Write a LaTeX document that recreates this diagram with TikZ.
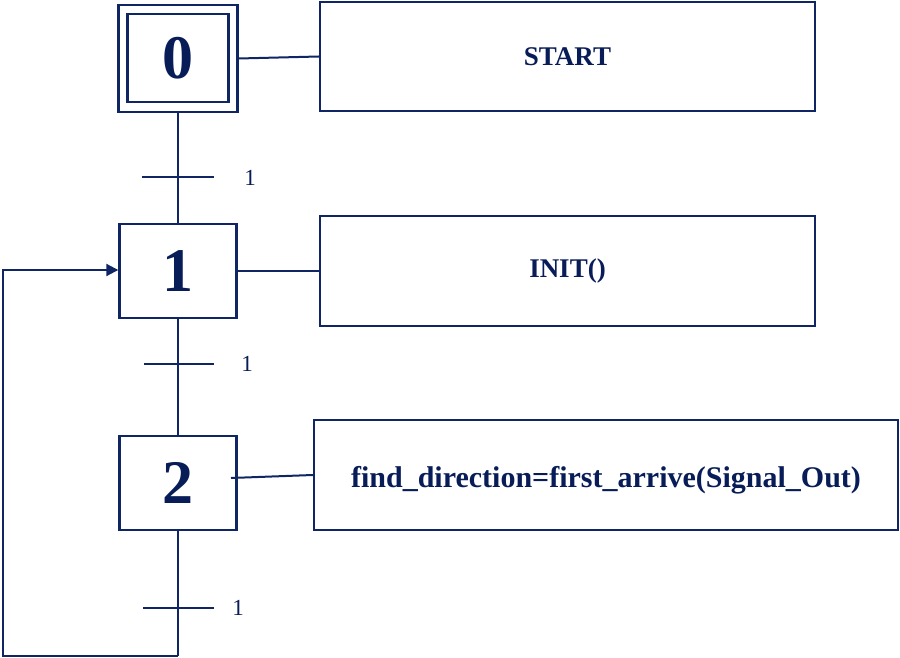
\documentclass[tikz,border=0pt]{standalone}
\usepackage{fontspec}
\setmainfont{Liberation Serif}
\usetikzlibrary{arrows.meta}
\definecolor{navy}{RGB}{16,38,100}
\definecolor{navytext}{RGB}{8,28,88}
\begin{document}
\begin{tikzpicture}[x=1pt,y=-1pt,
  line/.style={draw=navy,line width=2pt},
  stepbox/.style={draw=navy,line width=2.4pt,minimum width=117pt,minimum height=94pt,inner sep=0pt,font=\fontsize{62}{62}\selectfont\bfseries,text=navytext},
  actbox/.style={draw=navy,line width=2.4pt,inner sep=0pt,font=\fontsize{27}{30}\selectfont\bfseries,text=navytext},
  tlabel/.style={font=\fontsize{23}{25}\selectfont,text=navytext,inner sep=0pt}]
\useasboundingbox (0,0) rectangle (900,658);
% step 0 (initial, double box)
\node[stepbox,minimum width=119pt,minimum height=107pt] (s0out) at (178,58.5) {};
\node[draw=navy,line width=2.4pt,minimum width=101pt,minimum height=88pt,inner sep=0pt,font=\fontsize{62}{62}\selectfont\bfseries,text=navytext] (s0) at (178,58) {0};
\node[actbox,minimum width=495pt,minimum height=109pt] (a0) at (567.5,56.5) {START};
\draw[line] (s0out.east) -- (a0.west);
% step 1
\node[stepbox] (s1) at (178,271) {1};
\node[actbox,minimum width=495pt,minimum height=110pt] (a1) at (567.5,271) {INIT()};
\draw[line] (s1.east) -- (a1.west);
% step 2
\node[stepbox] (s2) at (178,483) {2};
\node[actbox,minimum width=584pt,minimum height=110pt,font=\fontsize{30}{32}\selectfont\bfseries] (a2) at (606,475) {\raisebox{-5pt}[\height][\depth]{find\_direction=first\_arrive(Signal\_Out)}};
\coordinate (s2r) at (231,478);
\draw[line] (s2r) -- (a2.west);
% transitions
\coordinate (t1) at (178,177);
\coordinate (t2) at (178,364);
\coordinate (t3) at (178,608);
\draw[line] (s0out.south) -- (s1.north);
\draw[line] (s1.south) -- (s2.north);
\coordinate (bot) at (178,656);
\coordinate (bl) at (3,656);
\coordinate (tl) at (3,270);
\draw[line] (s2.south) -- (bot);
\draw[line] ([xshift=-36pt]t1) -- ([xshift=36pt]t1);
\draw[line] ([xshift=-34pt]t2) -- ([xshift=36pt]t2);
\draw[line] ([xshift=-35pt]t3) -- ([xshift=36pt]t3);
\node[tlabel] (l1) at (250,178) {1};
\node[tlabel] (l2) at (247,364) {1};
\node[tlabel] (l3) at (238,608) {1};
% loop back
\draw[line,-{Triangle[length=12pt,width=12pt]}] (bot) -- (bl) -- (tl) -- (s1.west |- tl);
\end{tikzpicture}
\end{document}
